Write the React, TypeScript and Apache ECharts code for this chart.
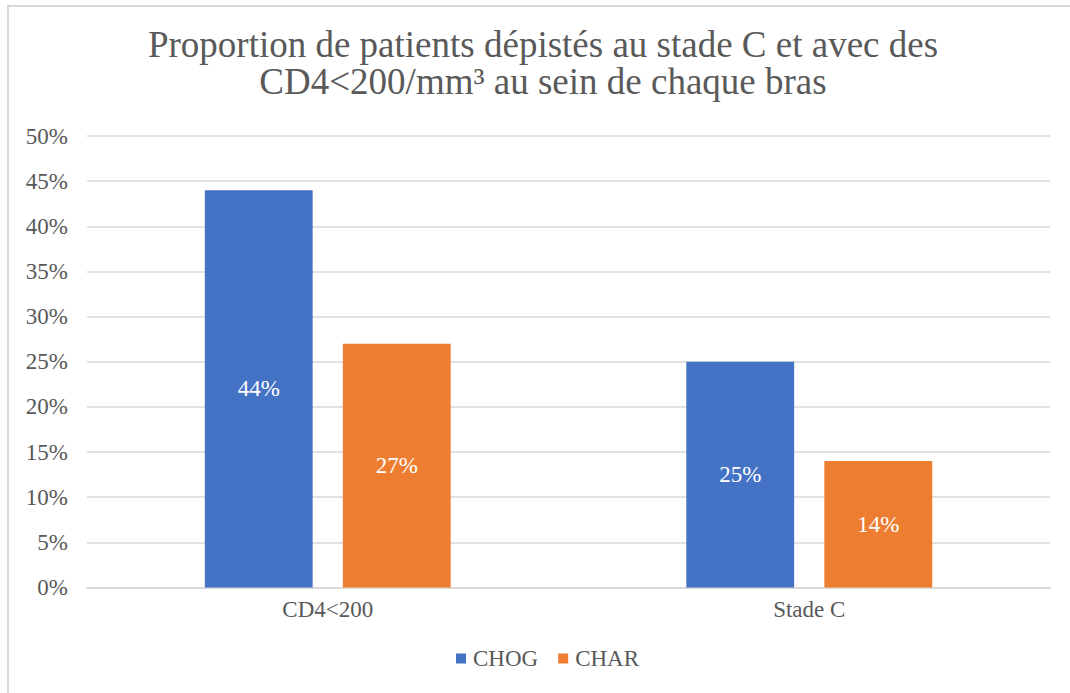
import React, { useEffect, useRef } from "react";
import * as echarts from "echarts";

const categories = ["CD4<200", "Stade C"];
const chogValues = [44, 25];
const charValues = [27, 14];
const seriesNames = ["CHOG", "CHAR"];
const titleText = "Proportion de patients dépistés au stade C et avec des\nCD4<200/mm³ au sein de chaque bras";

const FONT = "Liberation Serif";
const TEXT_COLOR = "#595959";

export default function App() {
  const ref = useRef<HTMLDivElement>(null);
  useEffect(() => {
    if (!ref.current) return;
    const chart = echarts.init(ref.current, null, { renderer: "svg" });
    const label = {
      show: true,
      position: "inside",
      color: "#ffffff",
      fontFamily: FONT,
      fontSize: 23,
      formatter: (p: any) => p.value + "%",
    };
    chart.setOption({
      animation: false,
      textStyle: { fontFamily: FONT },
      title: {
        text: titleText,
        left: 543,
        top: 26,
        padding: 0,
        textAlign: "center",
        textStyle: {
          fontFamily: FONT,
          fontSize: 37,
          fontWeight: "normal",
          color: TEXT_COLOR,
          lineHeight: 37,
        },
      },
      grid: { left: 87, right: 20, top: 136, bottom: 105.5 },
      legend: {
        data: seriesNames,
        top: 647,
        left: 456,
        padding: 0,
        icon: "rect",
        itemWidth: 10,
        itemHeight: 10,
        itemGap: 20,
        textStyle: { fontFamily: FONT, fontSize: 23, color: TEXT_COLOR, padding: [0, 0, 0, 2] },
      },
      xAxis: {
        type: "category",
        data: categories,
        axisTick: { show: false },
        axisLine: { lineStyle: { color: "#d9d9d9", width: 2 } },
        axisLabel: { fontFamily: FONT, fontSize: 23, color: TEXT_COLOR, margin: 10 },
      },
      yAxis: {
        type: "value",
        min: 0,
        max: 50,
        interval: 5,
        axisLine: { show: false },
        axisTick: { show: false },
        splitLine: { lineStyle: { color: "#d9d9d9", width: 1.5 } },
        axisLabel: {
          fontFamily: FONT,
          fontSize: 23,
          color: TEXT_COLOR,
          margin: 19,
          formatter: (v: number) => v + "%",
        },
      },
      series: [
        {
          name: seriesNames[0],
          type: "bar",
          data: chogValues,
          barWidth: "22.4%",
          barGap: "28%",
          itemStyle: { color: "#4472C4" },
          label,
        },
        {
          name: seriesNames[1],
          type: "bar",
          data: charValues,
          barWidth: "22.4%",
          itemStyle: { color: "#ED7D31" },
          label,
        },
      ],
    });
    return () => chart.dispose();
  }, []);
  return (
    <div style={{ position: "fixed", left: 0, top: 0, width: 1070, height: 693, background: "#fff", overflow: "hidden" }}>
      <div
        style={{
          position: "absolute",
          left: 7,
          top: 5,
          width: 1100,
          height: 720,
          border: "2px solid #d9d9d9",
          boxSizing: "border-box",
        }}
      />
      <div ref={ref} style={{ position: "absolute", left: 0, top: 0, width: 1070, height: 693 }} />
    </div>
  );
}
